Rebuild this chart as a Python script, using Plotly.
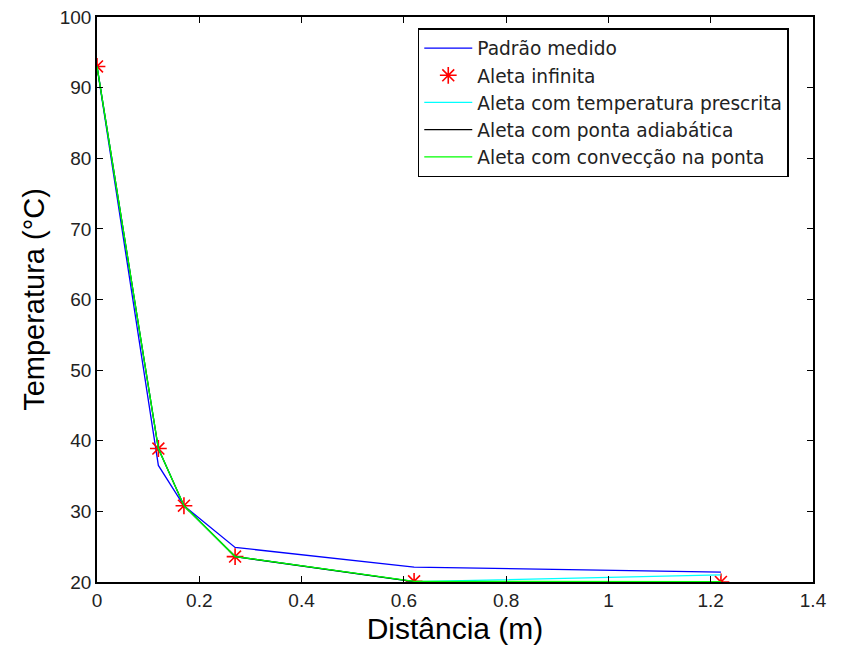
import plotly.graph_objects as go

distancia = [0.0, 0.12, 0.17, 0.27, 0.62, 1.22]
padrao_medido = [93.0, 36.5, 30.8, 24.9, 22.1, 21.4]
aleta_infinita = [93.0, 38.9, 30.8, 23.6, 20.1, 20.0]
temp_prescrita = [93.0, 38.9, 30.8, 23.6, 20.05, 21.0]
ponta_adiabatica = [93.0, 38.9, 30.8, 23.6, 20.05, 20.0]
conveccao_ponta = [93.0, 38.9, 30.8, 23.6, 20.1, 20.05]

x_ticks = [0, 0.2, 0.4, 0.6, 0.8, 1, 1.2, 1.4]
x_tick_labels = ["0", "0.2", "0.4", "0.6", "0.8", "1", "1.2", "1.4"]
y_ticks = [20, 30, 40, 50, 60, 70, 80, 90, 100]

font_family = "Liberation Sans, Arial, sans-serif"
legend_family = "DejaVu Sans, Liberation Sans, sans-serif"

fig = go.Figure()
fig.add_trace(go.Scatter(x=distancia, y=padrao_medido, mode="lines",
                         name="Padrão medido", line=dict(color="#0000ff", width=1.3)))
fig.add_trace(go.Scatter(x=distancia, y=aleta_infinita, mode="markers",
                         name="Aleta infinita",
                         marker=dict(symbol="asterisk-open", size=14, color="#ff0000",
                                     line=dict(color="#ff0000", width=1.6))))
fig.add_trace(go.Scatter(x=distancia, y=temp_prescrita, mode="lines",
                         name="Aleta com temperatura prescrita", line=dict(color="#00ffff", width=1.3)))
fig.add_trace(go.Scatter(x=distancia, y=ponta_adiabatica, mode="lines",
                         name="Aleta com ponta adiabática", line=dict(color="#000000", width=1.3)))
fig.add_trace(go.Scatter(x=distancia, y=conveccao_ponta, mode="lines",
                         name="Aleta com convecção na ponta", line=dict(color="#00ff00", width=1.3)))

axis_common = dict(showgrid=False, zeroline=False, showline=True, linecolor="#000000",
                   linewidth=1.5, mirror="allticks", ticks="inside", ticklen=6,
                   tickcolor="#000000", automargin=False, ticklabeloverflow="allow",
                   tickfont=dict(family=font_family, size=19, color="#222222"))

fig.update_layout(
    width=836, height=647,
    paper_bgcolor="#ffffff", plot_bgcolor="#ffffff",
    margin=dict(l=89, r=31, t=9, b=73),
    font=dict(family=font_family, color="#000000"),
    xaxis=dict(range=[0, 1.4], tickvals=x_ticks, ticktext=x_tick_labels,
               title=dict(text="Distância (m)", font=dict(size=30, family=font_family), standoff=8),
               **axis_common),
    yaxis=dict(range=[20, 100], tickvals=y_ticks,
               title=dict(text="Temperatura (°C)", font=dict(size=29, family=font_family), standoff=7),
               **axis_common),
    legend=dict(x=0.448, y=0.9805, xanchor="left", yanchor="top",
                bgcolor="#ffffff", bordercolor="#000000", borderwidth=1.5,
                font=dict(family=legend_family, size=18.6, color="#222222"),
                tracegroupgap=0, itemwidth=48),
    showlegend=True,
)

fig.write_html("out.html")
